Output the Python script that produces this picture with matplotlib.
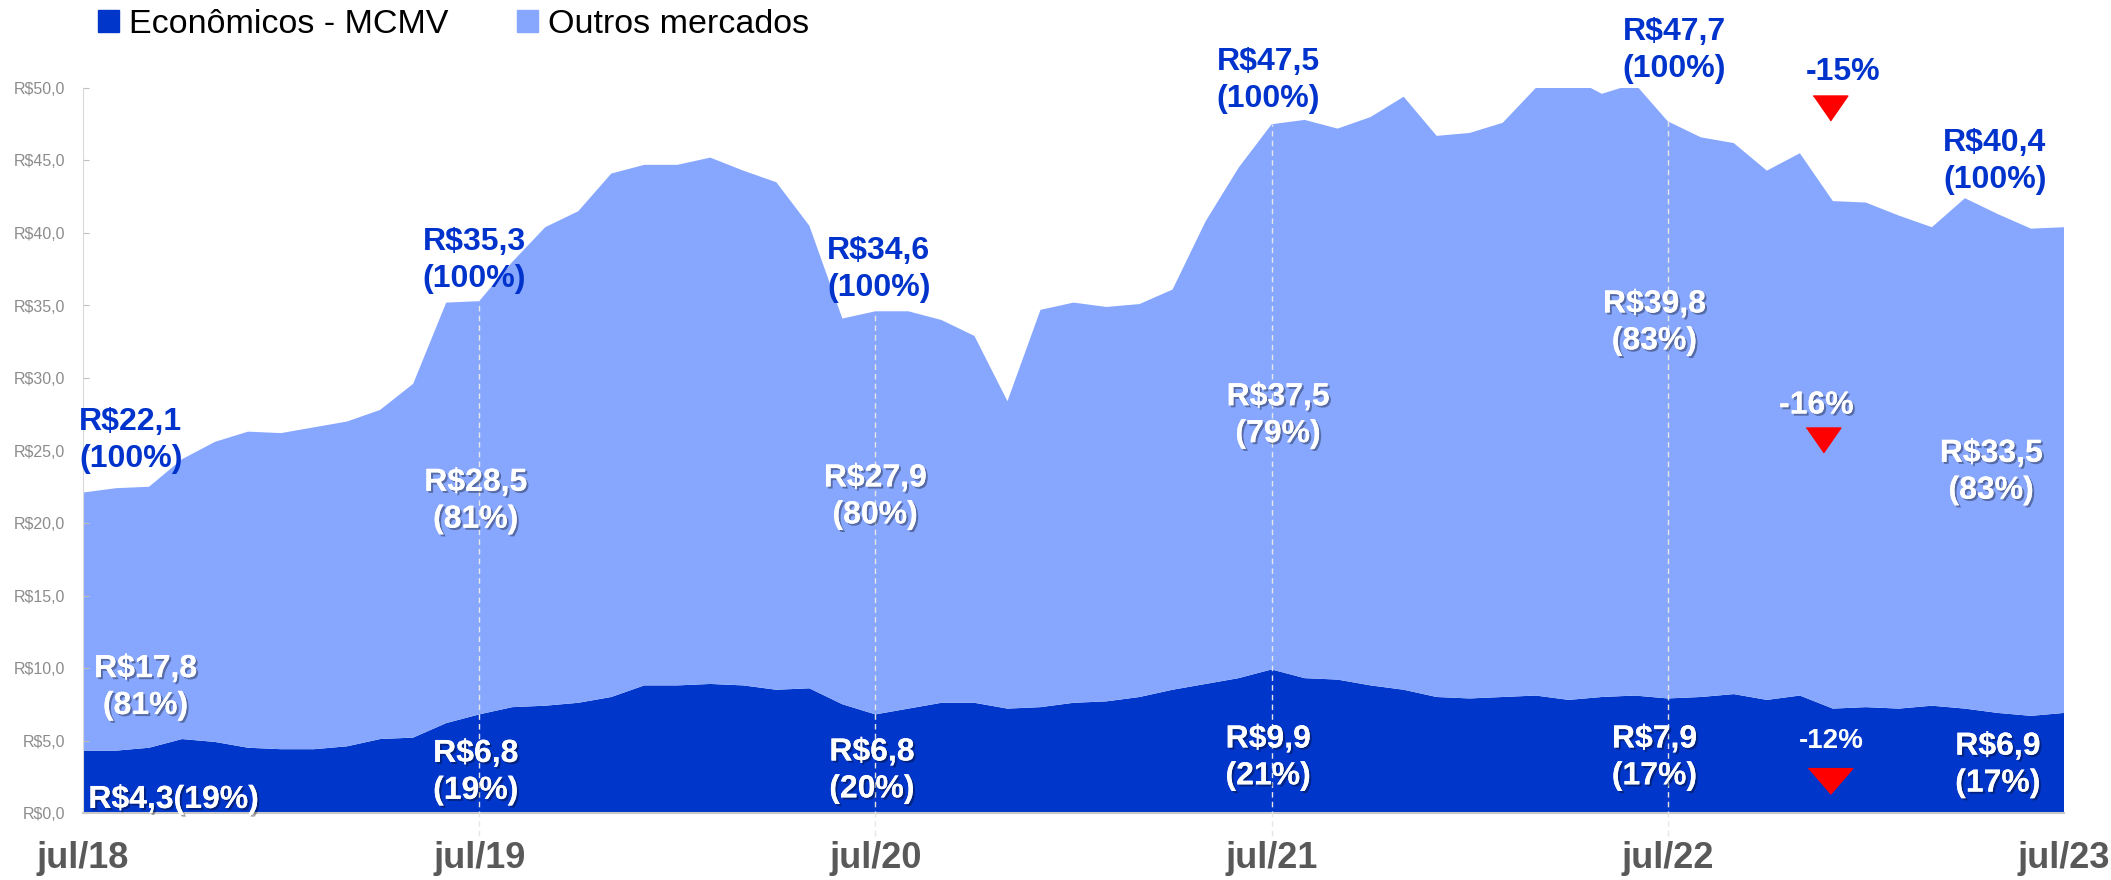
import numpy as np
import matplotlib
matplotlib.use('Agg')
import matplotlib.pyplot as plt
import matplotlib.patheffects as pe
from matplotlib.patches import Patch

plt.rcParams['font.family'] = ['Liberation Sans', 'DejaVu Sans']

# Lançamentos (R$ bi, 12m) - jul/18 a jul/23, mensal
economicos = [4.3, 4.3, 4.5, 5.1, 4.9, 4.5, 4.4, 4.4, 4.6, 5.1, 5.2, 6.2,
              6.8, 7.3, 7.4, 7.6, 8.0, 8.8, 8.8, 8.9, 8.8, 8.5, 8.6, 7.5,
              6.8, 7.2, 7.6, 7.6, 7.2, 7.3, 7.6, 7.7, 8.0, 8.5, 8.9, 9.3,
              9.9, 9.3, 9.2, 8.8, 8.5, 8.0, 7.9, 8.0, 8.1, 7.8, 8.0, 8.1,
              7.9, 8.0, 8.2, 7.8, 8.1, 7.2, 7.3, 7.2, 7.4, 7.2, 6.9, 6.7, 6.9]
total = [22.1, 22.4, 22.5, 24.4, 25.6, 26.3, 26.2, 26.6, 27.0, 27.8, 29.6, 35.2,
         35.3, 38.0, 40.4, 41.5, 44.1, 44.7, 44.7, 45.2, 44.3, 43.5, 40.5, 34.1,
         34.6, 34.6, 34.0, 32.9, 28.4, 34.7, 35.2, 34.9, 35.1, 36.1, 40.8, 44.5,
         47.5, 47.8, 47.2, 48.0, 49.4, 46.7, 46.9, 47.6, 50.0, 50.8, 49.6, 50.3,
         47.7, 46.6, 46.2, 44.3, 45.5, 42.2, 42.1, 41.2, 40.4, 42.4, 41.3, 40.3, 40.4]
tick_labels = ['jul/18', 'jul/19', 'jul/20', 'jul/21', 'jul/22', 'jul/23']

# rótulos: (mês, y, texto)
lbl_total = [(1.45, 25.7, 'R$22,1\n(100%)'), (11.85, 38.1, 'R$35,3\n(100%)'),
             (24.1, 37.5, 'R$34,6\n(100%)'), (35.9, 50.5, 'R$47,5\n(100%)'),
             (48.2, 52.6, 'R$47,7\n(100%)'), (57.9, 44.9, 'R$40,4\n(100%)')]
lbl_outros = [(1.9, 8.65, 'R$17,8\n(81%)'), (11.9, 21.5, 'R$28,5\n(81%)'),
              (24.0, 21.8, 'R$27,9\n(80%)'), (36.2, 27.4, 'R$37,5\n(79%)'),
              (47.6, 33.8, 'R$39,8\n(83%)'), (57.8, 23.5, 'R$33,5\n(83%)')]
lbl_econ = [(11.9, 2.8, 'R$6,8\n(19%)'), (23.9, 2.9, 'R$6,8\n(20%)'),
            (35.9, 3.8, 'R$9,9\n(21%)'), (47.6, 3.8, 'R$7,9\n(17%)'),
            (58.0, 3.3, 'R$6,9\n(17%)')]

DARK = '#0036C9'
LIGHT = '#87A7FF'
BLUE_TXT = '#0033CC'

econ = np.array(economicos)
outros = np.array(total) - econ
x = np.arange(len(total))

fig = plt.figure(figsize=(21.11, 8.8), dpi=100)
ax = fig.add_axes([83 / 2111, 67 / 880, 1981 / 2111, 725 / 880])
ax.stackplot(x, econ, outros, colors=[DARK, LIGHT], linewidth=0)
ax.set_xlim(0, 60)
ax.set_ylim(0, 50)

# linhas tracejadas anuais
for m in range(12, 60, 12):
    ax.plot([m, m], [-1.6, total[m]], color='#e6e6e6', lw=1, dashes=(4, 3),
            clip_on=False, zorder=3)

ax.set_yticks(np.arange(0, 51, 5))
ax.set_yticklabels(['R$%s' % f'{v:.1f}'.replace('.', ',') for v in np.arange(0, 51, 5)])
ax.set_xticks(range(0, 61, 12))
ax.set_xticklabels(tick_labels)
ax.tick_params(axis='x', length=0, pad=20, labelsize=26, labelcolor='#595959')
for t in ax.get_xticklabels():
    t.set_fontweight('bold')
ax.tick_params(axis='y', direction='in', length=4, color='#bfbfbf', pad=13,
               labelsize=11.5, labelcolor='#8c8c8c')
for s in ['top', 'right']:
    ax.spines[s].set_visible(False)
ax.spines['bottom'].set_color('#c8c8c8')
ax.spines['bottom'].set_linewidth(1.5)
ax.spines['left'].set_color('#d9d9d9')

shadow = [pe.withSimplePatchShadow(offset=(1.5, -1.5), shadow_rgbFace='black', alpha=0.35),
          pe.Normal()]

for mx, my, s in lbl_total:
    ax.text(mx, my, s, ha='center', va='center', fontsize=23, fontweight='bold',
            color=BLUE_TXT, linespacing=1.3, zorder=5)
for mx, my, s in lbl_outros + lbl_econ:
    ax.text(mx, my, s, ha='center', va='center', fontsize=23, fontweight='bold',
            color='white', linespacing=1.3, path_effects=shadow, zorder=5)
ax.text(2.75, 0.9, 'R$4,3(19%)', ha='center', va='center', fontsize=23,
        fontweight='bold', color='white', path_effects=shadow, zorder=5)

# variações
ax.text(53.3, 51.1, '-15%', ha='center', va='center', fontsize=23,
        fontweight='bold', color=BLUE_TXT)
ax.text(52.5, 28.1, '-16%', ha='center', va='center', fontsize=23,
        fontweight='bold', color='white', path_effects=shadow)
ax.text(52.95, 5.0, '-12%', ha='center', va='center', fontsize=20,
        fontweight='bold', color='white')
tri = [(-1, 0.72), (1, 0.72), (0, -0.72)]
flat_tri = [(-1, 0.58), (1, 0.58), (0, -0.58)]
ax.plot([52.9], [48.6], marker=tri, ms=25, color='red', ls='none', clip_on=False, zorder=5)
ax.plot([52.7], [25.7], marker=tri, ms=25, color='red', ls='none', zorder=5)
ax.plot([52.9], [2.2], marker=flat_tri, ms=32, color='red', ls='none', zorder=5)

handles = [Patch(color=DARK, label='Econômicos - MCMV'),
           Patch(color=LIGHT, label='Outros mercados')]
fig.legend(handles=handles, loc='upper left', bbox_to_anchor=(98 / 2111, 1 - 9 / 880),
           ncol=2, frameon=False, fontsize=24.5, handlelength=0.62, handleheight=0.62,
           handletextpad=0.3, columnspacing=2.0, borderpad=0, borderaxespad=0)

fig.savefig('out.png', dpi=100)
